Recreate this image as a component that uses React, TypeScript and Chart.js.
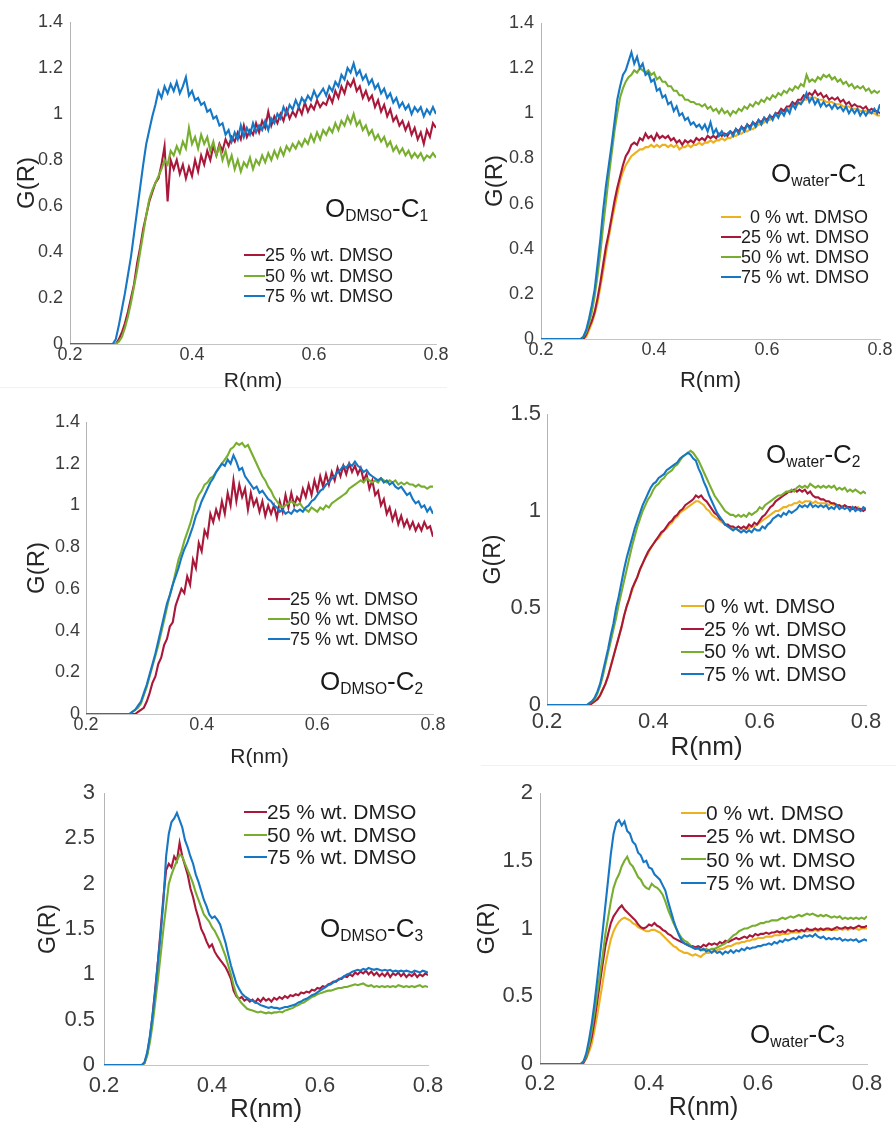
import React, { useEffect, useRef } from 'react';
import { Chart, registerables } from 'chart.js';

Chart.register(...registerables);

// ---------- shared x grid (nm) ----------
const R = [
  0.2,
  0.27, 0.275, 0.28, 0.285, 0.29, 0.295, 0.3, 0.305, 0.31, 0.315,
  0.32, 0.325, 0.33, 0.335, 0.34, 0.345, 0.35, 0.355, 0.36, 0.365,
  0.37, 0.375, 0.38, 0.385, 0.39, 0.395, 0.4, 0.405, 0.41, 0.415,
  0.42, 0.425, 0.43, 0.435, 0.44, 0.445, 0.45, 0.455, 0.46, 0.465,
  0.47, 0.475, 0.48, 0.485, 0.49, 0.495, 0.5, 0.505, 0.51, 0.515,
  0.52, 0.525, 0.53, 0.535, 0.54, 0.545, 0.55, 0.555, 0.56, 0.565,
  0.57, 0.575, 0.58, 0.585, 0.59, 0.595, 0.6, 0.605, 0.61, 0.615,
  0.62, 0.625, 0.63, 0.635, 0.64, 0.645, 0.65, 0.655, 0.66, 0.665,
  0.67, 0.675, 0.68, 0.685, 0.69, 0.695, 0.7, 0.705, 0.71, 0.715,
  0.72, 0.725, 0.73, 0.735, 0.74, 0.745, 0.75, 0.755, 0.76, 0.765,
  0.77, 0.775, 0.78, 0.785, 0.79, 0.795, 0.8,
];

const X_TICKS = [0.2, 0.4, 0.6, 0.8];
const Y_TICKS_14 = [0, 0.2, 0.4, 0.6, 0.8, 1, 1.2, 1.4];
const Y_TICKS_15 = [0, 0.5, 1, 1.5];
const Y_TICKS_3 = [0, 0.5, 1, 1.5, 2, 2.5, 3];
const Y_TICKS_2 = [0, 0.5, 1, 1.5, 2];

const LEGEND_3 = ['25 % wt. DMSO', '50 % wt. DMSO', '75 % wt. DMSO'];
const LEGEND_4 = ['0 % wt. DMSO', '25 % wt. DMSO', '50 % wt. DMSO', '75 % wt. DMSO'];

// ---------- Panel 1: O_DMSO - C1 ----------
const P1_25 = [0,
  0, 0, 0.02, 0.05, 0.09, 0.14, 0.20, 0.26, 0.35, 0.42,
  0.50, 0.56, 0.62, 0.66, 0.70, 0.72, 0.78, 0.86, 0.62, 0.80,
  0.76, 0.80, 0.74, 0.78, 0.72, 0.77, 0.73, 0.80, 0.75, 0.82,
  0.78, 0.84, 0.80, 0.86, 0.82, 0.87, 0.84, 0.89, 0.86, 0.90,
  0.88, 0.92, 0.89, 0.95, 0.90, 0.93, 0.91, 0.96, 0.92, 0.97,
  0.94, 1.01, 0.95, 0.99, 0.96, 1.00, 0.97, 1.02, 0.98, 1.01,
  0.99, 1.03, 1.00, 1.05, 1.01, 1.04, 1.02, 1.06, 1.03, 1.05,
  1.04, 1.08, 1.05, 1.10, 1.07, 1.12, 1.09, 1.14, 1.12, 1.15,
  1.10, 1.12, 1.07, 1.10, 1.06, 1.08, 1.03, 1.06, 1.01, 1.04,
  0.99, 1.02, 0.97, 0.99, 0.95, 0.97, 0.93, 0.96, 0.91, 0.94,
  0.89, 0.92, 0.87, 0.93, 0.90, 0.96, 0.94,
];
const P1_50 = [0,
  0, 0, 0.01, 0.03, 0.07, 0.12, 0.18, 0.25, 0.32, 0.40,
  0.48, 0.56, 0.63, 0.67, 0.70, 0.73, 0.76, 0.80, 0.78, 0.84,
  0.82, 0.86, 0.83, 0.88, 0.85, 0.94, 0.87, 0.90, 0.85, 0.91,
  0.87, 0.90, 0.84, 0.88, 0.82, 0.86, 0.80, 0.84, 0.78, 0.82,
  0.76, 0.80, 0.75, 0.79, 0.77, 0.81, 0.76, 0.80, 0.78, 0.82,
  0.79, 0.83, 0.80, 0.84, 0.81, 0.85, 0.82, 0.86, 0.84, 0.87,
  0.85, 0.88, 0.86, 0.89, 0.87, 0.91, 0.88, 0.92, 0.89, 0.93,
  0.91, 0.94, 0.92, 0.96, 0.93, 0.97, 0.95, 0.99, 0.96, 1.00,
  0.95, 0.97, 0.93, 0.95, 0.91, 0.93, 0.89, 0.91, 0.88, 0.90,
  0.86, 0.88, 0.84, 0.86, 0.83, 0.85, 0.82, 0.84, 0.81, 0.83,
  0.81, 0.83, 0.80, 0.82, 0.81, 0.83, 0.81,
];
const P1_75 = [0,
  0, 0.02, 0.08, 0.15, 0.22, 0.30, 0.38, 0.48, 0.58, 0.68,
  0.78, 0.87, 0.93, 0.99, 1.04, 1.10, 1.07, 1.12, 1.09, 1.13,
  1.10, 1.14, 1.09, 1.12, 1.16, 1.08, 1.10, 1.06, 1.07, 1.04,
  1.05, 1.01, 1.02, 0.98, 0.99, 0.95, 0.96, 0.91, 0.93, 0.88,
  0.92, 0.89, 0.95, 0.90, 0.94, 0.91, 0.96, 0.92, 0.95, 0.93,
  0.97, 0.93, 0.98, 0.96, 1.00, 0.98, 1.03, 1.00, 1.04, 1.02,
  1.06, 1.03, 1.07, 1.05, 1.08, 1.06, 1.10, 1.07, 1.09, 1.11,
  1.08, 1.12, 1.10, 1.14, 1.12, 1.17, 1.15, 1.20, 1.18, 1.22,
  1.17, 1.19, 1.15, 1.17, 1.13, 1.15, 1.11, 1.13, 1.09, 1.11,
  1.07, 1.09, 1.05, 1.07, 1.03, 1.05, 1.02, 1.04, 1.00, 1.03,
  1.01, 1.03, 0.99, 1.02, 1.00, 1.03, 1.00,
];

// ---------- Panel 2: O_water - C1 ----------
const P2_0 = [0,
  0, 0, 0.01, 0.04, 0.07, 0.11, 0.16, 0.23, 0.30, 0.38,
  0.45, 0.52, 0.58, 0.64, 0.70, 0.74, 0.77, 0.79, 0.81, 0.82,
  0.83, 0.84, 0.84, 0.85, 0.85, 0.86, 0.85, 0.86, 0.85, 0.86,
  0.86, 0.85, 0.86, 0.85, 0.86, 0.84, 0.85, 0.85, 0.86, 0.85,
  0.86, 0.86, 0.87, 0.86, 0.87, 0.87, 0.88, 0.87, 0.88, 0.88,
  0.89, 0.88, 0.89, 0.89, 0.90, 0.90, 0.91, 0.91, 0.92, 0.92,
  0.93, 0.93, 0.94, 0.95, 0.95, 0.96, 0.97, 0.97, 0.98, 0.99,
  0.99, 1.00, 1.01, 1.01, 1.02, 1.03, 1.04, 1.04, 1.05, 1.06,
  1.06, 1.07, 1.07, 1.07, 1.06, 1.06, 1.06, 1.05, 1.05, 1.05,
  1.04, 1.04, 1.04, 1.03, 1.03, 1.03, 1.02, 1.02, 1.02, 1.01,
  1.01, 1.01, 1.00, 1.00, 1.00, 0.99, 0.99,
];
const P2_25 = [0,
  0, 0, 0.02, 0.05, 0.08, 0.12, 0.18, 0.25, 0.33, 0.41,
  0.47, 0.54, 0.61, 0.67, 0.72, 0.77, 0.81, 0.83, 0.86, 0.87,
  0.86, 0.89, 0.88, 0.91, 0.89, 0.90, 0.88, 0.91, 0.89, 0.90,
  0.89, 0.90, 0.88, 0.89, 0.87, 0.88, 0.86, 0.88, 0.87, 0.88,
  0.87, 0.89, 0.88, 0.89, 0.88, 0.90, 0.89, 0.90, 0.89, 0.91,
  0.90, 0.91, 0.90, 0.92, 0.91, 0.93, 0.92, 0.94, 0.93, 0.95,
  0.94, 0.96, 0.95, 0.97, 0.96, 0.98, 0.97, 0.99, 0.98, 1.00,
  1.00, 1.02, 1.01, 1.03, 1.03, 1.05, 1.04, 1.06, 1.06, 1.08,
  1.07, 1.09, 1.08, 1.10, 1.08, 1.09, 1.07, 1.08, 1.06, 1.07,
  1.06, 1.07, 1.05, 1.06, 1.04, 1.05, 1.03, 1.04, 1.03, 1.03,
  1.02, 1.03, 1.01, 1.02, 1.01, 1.01, 1.00,
];
const P2_50 = [0,
  0, 0.01, 0.03, 0.07, 0.12, 0.19, 0.28, 0.38, 0.50, 0.61,
  0.72, 0.82, 0.92, 1.00, 1.07, 1.11, 1.14, 1.16, 1.17, 1.19,
  1.18, 1.20, 1.19, 1.18, 1.19, 1.17, 1.18, 1.15, 1.16, 1.14,
  1.14, 1.12, 1.12, 1.10, 1.10, 1.08, 1.08, 1.06, 1.06, 1.05,
  1.05, 1.04, 1.04, 1.03, 1.04, 1.02, 1.03, 1.01, 1.02, 1.00,
  1.02, 1.00, 1.01, 0.99, 1.01, 1.00, 1.02, 1.01, 1.03, 1.02,
  1.04, 1.03, 1.05, 1.04, 1.06, 1.05, 1.07, 1.06, 1.08, 1.07,
  1.09, 1.08, 1.10, 1.09, 1.11, 1.10, 1.12, 1.11, 1.13, 1.12,
  1.17, 1.14, 1.15, 1.14, 1.16, 1.15, 1.17, 1.16, 1.17, 1.15,
  1.16, 1.14, 1.15, 1.13, 1.14, 1.12, 1.13, 1.11, 1.12, 1.11,
  1.12, 1.10, 1.11, 1.09, 1.10, 1.09, 1.10,
];
const P2_75 = [0,
  0, 0.01, 0.04, 0.09, 0.15, 0.22, 0.33, 0.44, 0.57, 0.68,
  0.77, 0.86, 0.96, 1.06, 1.12, 1.17, 1.19, 1.23, 1.27, 1.22,
  1.25, 1.20, 1.22, 1.17, 1.18, 1.14, 1.15, 1.10, 1.11, 1.07,
  1.08, 1.04, 1.05, 1.01, 1.03, 0.99, 1.00, 0.97, 0.98, 0.95,
  0.96, 0.94, 0.95, 0.93, 0.95, 0.92, 0.96, 0.91, 0.93, 0.90,
  0.92, 0.90, 0.91, 0.92, 0.90, 0.93, 0.91, 0.94, 0.92, 0.95,
  0.93, 0.96, 0.94, 0.97, 0.95, 0.98, 0.96, 0.99, 0.97, 1.00,
  0.98, 1.01, 0.99, 1.02, 1.00, 1.04, 1.02, 1.05, 1.04, 1.06,
  1.09, 1.05, 1.07, 1.04, 1.06, 1.03, 1.05, 1.03, 1.04, 1.02,
  1.04, 1.02, 1.03, 1.01, 1.03, 1.00, 1.02, 1.00, 1.02, 0.99,
  1.01, 0.99, 1.01, 1.00, 1.02, 1.00, 1.04,
];

// ---------- Panel 3: O_DMSO - C2 ----------
const P3_25 = [0,
  0, 0, 0, 0, 0.01, 0.02, 0.03, 0.06, 0.10, 0.15,
  0.18, 0.24, 0.27, 0.33, 0.36, 0.42, 0.44, 0.52, 0.56, 0.60,
  0.58, 0.66, 0.62, 0.74, 0.70, 0.82, 0.78, 0.88, 0.85, 0.96,
  0.92, 0.98, 0.94, 1.02, 0.96, 1.06, 1.00, 1.12, 1.02, 1.10,
  1.04, 1.08, 0.98, 1.06, 1.00, 1.03, 0.97, 1.02, 0.95, 1.00,
  0.96, 1.00, 0.94, 1.02, 0.97, 1.05, 0.99, 1.06, 1.00, 1.04,
  1.02, 1.08, 1.04, 1.10, 1.05, 1.12, 1.07, 1.14, 1.09, 1.15,
  1.10, 1.16, 1.12, 1.18, 1.14, 1.19, 1.15, 1.20, 1.16, 1.19,
  1.15, 1.18, 1.12, 1.15, 1.08, 1.12, 1.05, 1.07, 1.00, 1.03,
  0.96, 0.99, 0.93, 0.97, 0.91, 0.95, 0.90, 0.93, 0.89, 0.92,
  0.88, 0.91, 0.88, 0.92, 0.89, 0.90, 0.85,
];
const P3_50 = [0,
  0, 0, 0.01, 0.02, 0.03, 0.05, 0.09, 0.13, 0.18, 0.23,
  0.28, 0.33, 0.39, 0.45, 0.51, 0.57, 0.62, 0.68, 0.74, 0.78,
  0.83, 0.87, 0.91, 0.96, 1.02, 1.05, 1.07, 1.10, 1.11, 1.13,
  1.14, 1.16, 1.18, 1.20, 1.22, 1.24, 1.27, 1.28, 1.30, 1.29,
  1.30, 1.28, 1.29, 1.26, 1.23, 1.20, 1.17, 1.14, 1.12, 1.09,
  1.07, 1.04, 1.02, 1.00, 0.99, 1.00, 1.01, 1.02, 1.01, 1.00,
  1.01, 0.99, 0.98, 0.97, 0.99, 0.98, 0.97, 0.99, 0.98, 1.00,
  0.99, 1.01, 1.02, 1.03, 1.04, 1.05, 1.06, 1.08, 1.09, 1.10,
  1.11, 1.12, 1.11, 1.13, 1.12, 1.11, 1.12, 1.11, 1.13, 1.12,
  1.11, 1.12, 1.11, 1.12, 1.10, 1.11, 1.10, 1.11, 1.10, 1.10,
  1.09, 1.10, 1.09, 1.09, 1.08, 1.09, 1.09,
];
const P3_75 = [0,
  0, 0, 0.01, 0.02, 0.04, 0.06, 0.10, 0.14, 0.19, 0.24,
  0.29, 0.35, 0.41, 0.47, 0.53, 0.57, 0.62, 0.66, 0.70, 0.75,
  0.79, 0.82, 0.86, 0.90, 0.95, 0.98, 1.02, 1.05, 1.08, 1.11,
  1.13, 1.16, 1.18, 1.20, 1.19, 1.22, 1.20, 1.24, 1.21, 1.17,
  1.18, 1.14, 1.12, 1.10, 1.08, 1.09, 1.06, 1.07, 1.05, 1.03,
  1.02, 1.00, 0.99, 0.97, 0.98, 0.96, 0.97, 0.96, 0.98, 0.97,
  0.98, 0.97, 0.99, 1.00, 1.02, 1.03, 1.05, 1.07, 1.08, 1.10,
  1.11, 1.13, 1.14, 1.16, 1.17, 1.19, 1.18, 1.20, 1.19, 1.21,
  1.19, 1.18, 1.16, 1.17, 1.15, 1.14, 1.13, 1.12, 1.13, 1.11,
  1.12, 1.10, 1.11, 1.09, 1.08, 1.09, 1.07, 1.05, 1.06, 1.03,
  1.01, 1.02, 0.99, 1.00, 0.97, 0.99, 0.96,
];

// ---------- Panel 4: O_water - C2 ----------
const P4_0 = [0,
  0, 0, 0, 0.01, 0.02, 0.03, 0.05, 0.08, 0.11, 0.15,
  0.20, 0.25, 0.30, 0.35, 0.40, 0.46, 0.51, 0.55, 0.59, 0.63,
  0.66, 0.70, 0.73, 0.76, 0.78, 0.81, 0.83, 0.85, 0.86, 0.88,
  0.90, 0.91, 0.93, 0.94, 0.96, 0.97, 0.99, 1.00, 1.01, 1.02,
  1.03, 1.04, 1.05, 1.05, 1.04, 1.03, 1.01, 1.00, 0.98, 0.97,
  0.96, 0.95, 0.94, 0.93, 0.92, 0.92, 0.91, 0.91, 0.90, 0.91,
  0.90, 0.91, 0.91, 0.92, 0.92, 0.93, 0.94, 0.95, 0.96, 0.97,
  0.98, 0.99, 1.00, 1.00, 1.01, 1.02, 1.02, 1.03, 1.03, 1.04,
  1.04, 1.05, 1.04, 1.05, 1.05, 1.05, 1.04, 1.05, 1.04, 1.04,
  1.04, 1.04, 1.03, 1.04, 1.03, 1.03, 1.03, 1.02, 1.03, 1.02,
  1.02, 1.02, 1.01, 1.02, 1.01, 1.01, 1.01,
];
const P4_25 = [0,
  0, 0, 0, 0.01, 0.02, 0.03, 0.05, 0.08, 0.11, 0.15,
  0.20, 0.25, 0.30, 0.35, 0.40, 0.46, 0.51, 0.55, 0.60, 0.63,
  0.66, 0.70, 0.73, 0.76, 0.79, 0.81, 0.83, 0.85, 0.87, 0.89,
  0.90, 0.92, 0.94, 0.95, 0.97, 0.98, 1.00, 1.01, 1.03, 1.04,
  1.05, 1.06, 1.08, 1.07, 1.08, 1.06, 1.05, 1.03, 1.01, 0.99,
  0.98, 0.96, 0.95, 0.93, 0.93, 0.92, 0.92, 0.91, 0.92, 0.91,
  0.92, 0.91, 0.93, 0.92, 0.94, 0.93, 0.95, 0.97, 0.98, 1.00,
  1.02, 1.03, 1.05, 1.06, 1.07, 1.08, 1.09, 1.10, 1.10, 1.11,
  1.10, 1.11, 1.10, 1.11, 1.09, 1.10, 1.08, 1.07, 1.07, 1.06,
  1.06, 1.05, 1.05, 1.04, 1.04, 1.03, 1.03, 1.02, 1.03, 1.02,
  1.02, 1.01, 1.02, 1.01, 1.01, 1.00, 1.01,
];
const P4_50 = [0,
  0, 0, 0.01, 0.02, 0.03, 0.06, 0.10, 0.15, 0.21, 0.27,
  0.33, 0.39, 0.45, 0.52, 0.58, 0.64, 0.70, 0.76, 0.82, 0.87,
  0.92, 0.96, 1.00, 1.03, 1.06, 1.08, 1.11, 1.13, 1.14, 1.16,
  1.17, 1.19, 1.20, 1.21, 1.23, 1.24, 1.26, 1.28, 1.29, 1.30,
  1.31, 1.30, 1.28, 1.26, 1.23, 1.20, 1.17, 1.14, 1.11, 1.08,
  1.06, 1.04, 1.02, 1.00, 0.99, 0.98, 0.98, 0.97, 0.98, 0.97,
  0.98, 0.97, 0.99, 0.98, 0.99, 1.00, 1.02, 1.01, 1.03, 1.04,
  1.05, 1.06, 1.07, 1.08, 1.08, 1.09, 1.10, 1.10, 1.11, 1.10,
  1.12, 1.13, 1.12, 1.13, 1.12, 1.14, 1.13, 1.12, 1.13, 1.12,
  1.13, 1.12, 1.13, 1.12, 1.13, 1.11, 1.12, 1.11, 1.12, 1.10,
  1.11, 1.10, 1.11, 1.10, 1.09, 1.10, 1.09,
];
const P4_75 = [0,
  0, 0, 0.01, 0.02, 0.04, 0.07, 0.11, 0.17, 0.23, 0.29,
  0.36, 0.42, 0.50, 0.56, 0.63, 0.70, 0.76, 0.81, 0.86, 0.91,
  0.95, 0.99, 1.03, 1.06, 1.09, 1.12, 1.14, 1.15, 1.17, 1.18,
  1.19, 1.21, 1.22, 1.23, 1.24, 1.25, 1.27, 1.28, 1.29, 1.30,
  1.29, 1.27, 1.26, 1.22, 1.19, 1.15, 1.12, 1.08, 1.05, 1.02,
  0.99, 0.97, 0.95, 0.93, 0.92, 0.91, 0.90, 0.91, 0.90, 0.89,
  0.90, 0.89, 0.90, 0.89, 0.91, 0.90, 0.90, 0.92, 0.91, 0.93,
  0.94, 0.96, 0.97, 0.98, 0.97, 0.99, 0.98, 1.00, 0.99, 1.00,
  1.01, 1.03, 1.02, 1.03, 1.02, 1.04, 1.02, 1.03, 1.02, 1.03,
  1.02, 1.03, 1.01, 1.02, 1.01, 1.03, 1.01, 1.02, 1.01, 1.02,
  1.00, 1.02, 1.00, 1.01, 1.00, 1.02, 1.01,
];

// ---------- Panel 5: O_DMSO - C3 ----------
const P5_25 = [0,
  0, 0.02, 0.12, 0.30, 0.55, 0.85, 1.15, 1.50, 1.85, 2.15,
  2.22, 2.18, 2.30, 2.25, 2.45, 2.30, 2.20, 2.10, 1.95, 1.85,
  1.72, 1.62, 1.50, 1.44, 1.36, 1.30, 1.33, 1.25, 1.20, 1.16,
  1.12, 1.08, 1.02, 0.95, 0.82, 0.76, 0.73, 0.75, 0.71, 0.73,
  0.70, 0.72, 0.69, 0.73, 0.70, 0.74, 0.71, 0.73, 0.70, 0.74,
  0.72, 0.75, 0.73, 0.76, 0.74, 0.77, 0.76, 0.78, 0.77, 0.80,
  0.79, 0.81, 0.80, 0.83, 0.82, 0.85, 0.84, 0.87, 0.86, 0.89,
  0.90, 0.92, 0.92, 0.95, 0.95, 0.98, 0.97, 1.00, 0.98, 1.02,
  1.00, 1.03, 1.01, 1.04, 1.00, 1.03, 0.99, 1.02, 0.98, 1.01,
  0.98, 1.02, 0.97, 1.01, 0.99, 1.02, 0.98, 1.01, 0.97, 1.00,
  0.98, 1.01, 0.97, 1.00, 0.98, 1.01, 0.99,
];
const P5_50 = [0,
  0, 0.02, 0.10, 0.25, 0.45, 0.70, 0.95, 1.22, 1.50, 1.75,
  2.00, 2.10, 2.18, 2.25, 2.32, 2.30, 2.22, 2.15, 2.08, 2.00,
  1.90, 1.82, 1.74, 1.66, 1.62, 1.58, 1.52, 1.48, 1.42, 1.36,
  1.28, 1.20, 1.10, 1.00, 0.88, 0.78, 0.72, 0.68, 0.65, 0.62,
  0.61, 0.60, 0.59, 0.58, 0.59, 0.58, 0.57, 0.58, 0.57, 0.58,
  0.58, 0.59, 0.58, 0.60, 0.61, 0.62, 0.63, 0.65, 0.66, 0.68,
  0.69, 0.71, 0.73, 0.75, 0.76, 0.78, 0.79, 0.80, 0.81, 0.82,
  0.82, 0.83, 0.84, 0.85, 0.85, 0.86, 0.86, 0.87, 0.88, 0.89,
  0.88, 0.89, 0.90, 0.88, 0.87, 0.88, 0.86, 0.87, 0.86, 0.87,
  0.86, 0.87, 0.86, 0.87, 0.86, 0.88, 0.87, 0.86, 0.87, 0.86,
  0.87, 0.86, 0.87, 0.88, 0.86, 0.87, 0.86,
];
const P5_75 = [0,
  0, 0.03, 0.14, 0.32, 0.55, 0.82, 1.15, 1.45, 1.80, 2.30,
  2.55, 2.68, 2.72, 2.78, 2.70, 2.62, 2.48, 2.40, 2.30, 2.22,
  2.10, 2.02, 1.92, 1.82, 1.75, 1.66, 1.62, 1.64, 1.60, 1.55,
  1.45, 1.35, 1.22, 1.10, 1.00, 0.90, 0.84, 0.79, 0.76, 0.74,
  0.72, 0.71, 0.69, 0.68, 0.66, 0.65, 0.64, 0.63, 0.64, 0.63,
  0.63, 0.62, 0.63, 0.64, 0.64, 0.65, 0.66, 0.67, 0.69, 0.70,
  0.72, 0.73, 0.75, 0.77, 0.78, 0.80, 0.82, 0.84, 0.86, 0.88,
  0.89, 0.91, 0.93, 0.94, 0.96, 0.98, 1.00, 1.01, 1.03, 1.04,
  1.05, 1.04, 1.06, 1.05, 1.07, 1.06, 1.05, 1.06, 1.05, 1.04,
  1.05, 1.04, 1.05, 1.03, 1.04, 1.03, 1.04, 1.03, 1.04, 1.03,
  1.02, 1.04, 1.03, 1.02, 1.04, 1.03, 1.02,
];

// ---------- Panel 6: O_water - C3 ----------
const P6_0 = [0,
  0, 0, 0.01, 0.04, 0.09, 0.15, 0.25, 0.36, 0.48, 0.60,
  0.73, 0.83, 0.92, 0.98, 1.02, 1.05, 1.07, 1.08, 1.07, 1.06,
  1.04, 1.03, 1.01, 1.00, 0.99, 0.98, 0.98, 0.99, 0.99, 0.98,
  0.97, 0.95, 0.93, 0.91, 0.89, 0.87, 0.86, 0.84, 0.83, 0.82,
  0.82, 0.81, 0.80, 0.81, 0.80, 0.79, 0.81, 0.82, 0.82, 0.83,
  0.83, 0.84, 0.85, 0.85, 0.86, 0.87, 0.87, 0.88, 0.89, 0.89,
  0.90, 0.90, 0.91, 0.91, 0.92, 0.92, 0.93, 0.93, 0.93, 0.94,
  0.94, 0.94, 0.95, 0.95, 0.95, 0.96, 0.96, 0.96, 0.97, 0.97,
  0.97, 0.97, 0.98, 0.98, 0.98, 0.98, 0.98, 0.99, 0.98, 0.99,
  0.99, 0.99, 0.99, 0.99, 0.99, 0.99, 1.00, 0.99, 1.00, 0.99,
  1.00, 1.00, 1.00, 0.99, 1.00, 1.00, 1.00,
];
const P6_25 = [0,
  0, 0, 0.01, 0.05, 0.12, 0.20, 0.32, 0.46, 0.60, 0.74,
  0.87, 0.96, 1.04, 1.09, 1.12, 1.15, 1.17, 1.14, 1.12, 1.10,
  1.08, 1.06, 1.03, 1.01, 1.00, 1.01, 1.03, 1.02, 1.04, 1.02,
  1.01, 0.99, 0.98, 0.96, 0.95, 0.93, 0.92, 0.91, 0.90, 0.89,
  0.88, 0.87, 0.87, 0.86, 0.87, 0.86, 0.88, 0.87, 0.89, 0.88,
  0.89, 0.88, 0.90, 0.89, 0.91, 0.90, 0.91, 0.92, 0.93, 0.92,
  0.93, 0.94, 0.93, 0.95, 0.94, 0.96, 0.95, 0.96, 0.96, 0.97,
  0.96, 0.97, 0.97, 0.98, 0.97, 0.98, 0.97, 0.99, 0.98, 0.98,
  0.99, 0.98, 0.99, 0.98, 1.00, 0.99, 0.99, 1.00, 0.99, 1.00,
  0.99, 1.00, 1.00, 0.99, 1.00, 1.01, 1.00, 1.00, 1.01, 1.00,
  1.01, 1.00, 1.01, 1.02, 1.01, 1.01, 1.02,
];
const P6_50 = [0,
  0, 0, 0.02, 0.06, 0.14, 0.25, 0.38, 0.52, 0.66, 0.80,
  0.96, 1.08, 1.20, 1.30, 1.36, 1.40, 1.46, 1.50, 1.53, 1.48,
  1.46, 1.42, 1.38, 1.36, 1.32, 1.30, 1.29, 1.33, 1.31, 1.30,
  1.28, 1.25, 1.20, 1.14, 1.09, 1.04, 1.00, 0.96, 0.93, 0.91,
  0.90, 0.88, 0.86, 0.85, 0.85, 0.84, 0.84, 0.85, 0.84, 0.85,
  0.85, 0.86, 0.87, 0.88, 0.89, 0.91, 0.93, 0.95, 0.96, 0.98,
  0.99, 1.00, 1.00, 1.01, 1.02, 1.02, 1.03, 1.04, 1.04, 1.05,
  1.05, 1.06, 1.06, 1.06, 1.07, 1.08, 1.07, 1.08, 1.09, 1.08,
  1.09, 1.10, 1.09, 1.10, 1.11, 1.10, 1.11, 1.10, 1.09, 1.10,
  1.09, 1.10, 1.09, 1.08, 1.09, 1.08, 1.09, 1.07, 1.08, 1.07,
  1.08, 1.07, 1.08, 1.07, 1.08, 1.07, 1.09,
];
const P6_75 = [0,
  0, 0, 0.02, 0.08, 0.18, 0.30, 0.45, 0.62, 0.80, 0.98,
  1.17, 1.36, 1.55, 1.70, 1.78, 1.80, 1.76, 1.79, 1.72, 1.70,
  1.64, 1.62, 1.56, 1.54, 1.49, 1.50, 1.45, 1.44, 1.40, 1.38,
  1.36, 1.32, 1.28, 1.20, 1.13, 1.06, 1.00, 0.95, 0.91, 0.89,
  0.88, 0.87, 0.86, 0.85, 0.86, 0.84, 0.85, 0.83, 0.84, 0.82,
  0.84, 0.82, 0.83, 0.81, 0.83, 0.82, 0.84, 0.82, 0.84, 0.83,
  0.85, 0.84, 0.86, 0.85, 0.86, 0.86, 0.87, 0.87, 0.88, 0.88,
  0.89, 0.88, 0.90, 0.89, 0.91, 0.90, 0.92, 0.91, 0.92, 0.93,
  0.92, 0.94, 0.93, 0.95, 0.94, 0.95, 0.94, 0.96, 0.94, 0.93,
  0.94, 0.92, 0.93, 0.92, 0.93, 0.92, 0.93, 0.91, 0.92, 0.91,
  0.92, 0.91, 0.92, 0.90, 0.91, 0.92, 0.91,
];

// ---------- styles ----------
const C_0 = '#EDB120';
const C_25 = '#A8183A';
const C_50 = '#78AE30';
const C_75 = '#1677C4';
const FONT = "'Liberation Sans', Arial, Helvetica, sans-serif";

type Series = { label: string; color: string; values: number[] };

type PanelCfg = {
  left: number; top: number; width: number; height: number;
  x0: number; x1: number; yTop: number; yBot: number;
  yMax: number; yTicks: number[];
  tickSize: number; yTitleSize: number; xTitleSize: number;
  yTickPad: number; yTitleCX: number; xTickCY: number; xTitleCY: number;
  series: Series[];
  legend: { left: number; top: number; rowH: number; lineW: number; fontSize: number; firstIndent?: number };
  tag: { left: number; baseline: number; sub: string; idx: string };
};

function makeSeries(labels: string[], colors: string[], vals: number[][]): Series[] {
  return labels.map((l, i) => ({ label: l, color: colors[i], values: vals[i] }));
}

const PANELS: PanelCfg[] = [
  {
    left: 0, top: 0, width: 460, height: 400,
    x0: 70, x1: 436, yTop: 22, yBot: 344,
    yMax: 1.4, yTicks: Y_TICKS_14,
    tickSize: 18, yTitleSize: 24, xTitleSize: 21,
    yTickPad: 7, yTitleCX: 27, xTickCY: 353, xTitleCY: 381,
    series: makeSeries(LEGEND_3, [C_25, C_50, C_75], [P1_25, P1_50, P1_75]),
    legend: { left: 244, top: 245, rowH: 20.5, lineW: 21, fontSize: 18 },
    tag: { left: 325, baseline: 217, sub: 'DMSO', idx: '1' },
  },
  {
    left: 448, top: 0, width: 448, height: 400,
    x0: 541, x1: 880, yTop: 23, yBot: 339,
    yMax: 1.4, yTicks: Y_TICKS_14,
    tickSize: 18, yTitleSize: 24, xTitleSize: 22,
    yTickPad: 7, yTitleCX: 495, xTickCY: 349, xTitleCY: 381,
    series: makeSeries(LEGEND_4, [C_0, C_25, C_50, C_75], [P2_0, P2_25, P2_50, P2_75]),
    legend: { left: 721, top: 207, rowH: 20, lineW: 20, fontSize: 18, firstIndent: 9 },
    tag: { left: 771, baseline: 182, sub: 'water', idx: '1' },
  },
  {
    left: 0, top: 380, width: 460, height: 390,
    x0: 86, x1: 433, yTop: 422, yBot: 714,
    yMax: 1.4, yTicks: Y_TICKS_14,
    tickSize: 18, yTitleSize: 24, xTitleSize: 21,
    yTickPad: 6, yTitleCX: 37, xTickCY: 725, xTitleCY: 757,
    series: makeSeries(LEGEND_3, [C_25, C_50, C_75], [P3_25, P3_50, P3_75]),
    legend: { left: 268, top: 589, rowH: 20, lineW: 22, fontSize: 18 },
    tag: { left: 320, baseline: 690, sub: 'DMSO', idx: '2' },
  },
  {
    left: 448, top: 380, width: 448, height: 390,
    x0: 547, x1: 866, yTop: 414, yBot: 705,
    yMax: 1.5, yTicks: Y_TICKS_15,
    tickSize: 22, yTitleSize: 23, xTitleSize: 26,
    yTickPad: 6, yTitleCX: 494, xTickCY: 722, xTitleCY: 748,
    series: makeSeries(LEGEND_4, [C_0, C_25, C_50, C_75], [P4_0, P4_25, P4_50, P4_75]),
    legend: { left: 681, top: 595, rowH: 22.7, lineW: 23, fontSize: 20 },
    tag: { left: 766, baseline: 463, sub: 'water', idx: '2' },
  },
  {
    left: 0, top: 760, width: 460, height: 366,
    x0: 104, x1: 428, yTop: 793, yBot: 1065,
    yMax: 3, yTicks: Y_TICKS_3,
    tickSize: 22, yTitleSize: 23, xTitleSize: 26,
    yTickPad: 9, yTitleCX: 49, xTickCY: 1086, xTitleCY: 1110,
    series: makeSeries(LEGEND_3, [C_25, C_50, C_75], [P5_25, P5_50, P5_75]),
    legend: { left: 244, top: 801, rowH: 22.5, lineW: 23, fontSize: 21 },
    tag: { left: 320, baseline: 937, sub: 'DMSO', idx: '3' },
  },
  {
    left: 448, top: 760, width: 448, height: 366,
    x0: 540, x1: 867, yTop: 793, yBot: 1064,
    yMax: 2, yTicks: Y_TICKS_2,
    tickSize: 22, yTitleSize: 24, xTitleSize: 25,
    yTickPad: 7, yTitleCX: 487, xTickCY: 1084, xTitleCY: 1108,
    series: makeSeries(LEGEND_4, [C_0, C_25, C_50, C_75], [P6_0, P6_25, P6_50, P6_75]),
    legend: { left: 681, top: 801, rowH: 23.3, lineW: 25, fontSize: 21 },
    tag: { left: 750, baseline: 1043, sub: 'water', idx: '3' },
  },
];

function PanelChart({ p }: { p: PanelCfg }) {
  const ref = useRef<HTMLCanvasElement | null>(null);

  useEffect(() => {
    if (!ref.current) return;
    const tickLH = p.tickSize * 1.2;
    const yTitleLH = p.yTitleSize * 1.2;
    const xTitleLH = p.xTitleSize * 1.2;
    const padLeft = p.yTitleCX - p.left - yTitleLH / 2;
    const yWidth = p.x0 - p.left - padLeft;
    const xHeight = p.xTitleCY - p.yBot + xTitleLH / 2;
    const padBottom = Math.max(0, p.top + p.height - p.yBot - xHeight);
    const padTop = p.yTop - p.top;
    const padRight = p.left + p.width - p.x1;
    const xTickPad = Math.max(0, p.xTickCY - p.yBot - tickLH / 2);
    const n = p.series.length;

    const chart = new Chart(ref.current, {
      type: 'line',
      data: {
        datasets: p.series.map((s, i) => ({
          label: s.label,
          data: R.map((x, j) => ({ x, y: s.values[j] })),
          borderColor: s.color,
          backgroundColor: s.color,
          borderWidth: 2.1,
          pointRadius: 0,
          tension: 0,
          fill: false,
          order: n - 1 - i,
        })),
      },
      options: {
        responsive: false,
        animation: false,
        devicePixelRatio: 1,
        events: [],
        layout: { padding: { left: padLeft, top: padTop, right: padRight, bottom: padBottom } },
        plugins: { legend: { display: false }, tooltip: { enabled: false } },
        scales: {
          x: {
            type: 'linear',
            min: 0.2,
            max: 0.8,
            grid: { display: false, drawTicks: false },
            border: { display: true, color: '#c4c4c4', width: 1 },
            afterBuildTicks: (scale: any) => { scale.ticks = X_TICKS.map((v) => ({ value: v })); },
            afterFit: (scale: any) => { scale.height = xHeight; },
            ticks: {
              autoSkip: false,
              maxRotation: 0,
              padding: xTickPad,
              color: '#3c3c3c',
              font: { family: FONT, size: p.tickSize },
              callback: (v: any) => String(v),
            },
            title: {
              display: true,
              text: 'R(nm)',
              color: '#262626',
              padding: 0,
              font: { family: FONT, size: p.xTitleSize },
            },
          },
          y: {
            type: 'linear',
            min: 0,
            max: p.yMax,
            grid: { display: false, drawTicks: false },
            border: { display: true, color: '#b4b4b4', width: 1 },
            afterBuildTicks: (scale: any) => { scale.ticks = p.yTicks.map((v) => ({ value: v })); },
            afterFit: (scale: any) => { scale.width = yWidth; },
            ticks: {
              autoSkip: false,
              padding: p.yTickPad,
              color: '#3c3c3c',
              font: { family: FONT, size: p.tickSize },
              callback: (v: any) => String(v),
            },
            title: {
              display: true,
              text: 'G(R)',
              color: '#262626',
              padding: 0,
              font: { family: FONT, size: p.yTitleSize },
            },
          },
        },
      } as any,
    });
    return () => chart.destroy();
  }, [p]);

  const lg = p.legend;
  return (
    <>
      <canvas
        ref={ref}
        width={p.width}
        height={p.height}
        style={{ position: 'absolute', left: p.left, top: p.top, width: p.width, height: p.height }}
      />
      <div
        style={{
          position: 'absolute',
          left: lg.left,
          top: lg.top,
          fontFamily: FONT,
          fontSize: lg.fontSize,
          color: '#1e1e1e',
          whiteSpace: 'pre',
        }}
      >
        {p.series.map((s, i) => (
          <div key={s.label} style={{ display: 'flex', alignItems: 'center', height: lg.rowH, lineHeight: lg.rowH + 'px' }}>
            <span style={{ display: 'inline-block', width: lg.lineW, height: 2, background: s.color }} />
            <span style={{ paddingLeft: i === 0 && lg.firstIndent ? lg.firstIndent : 0 }}>{s.label}</span>
          </div>
        ))}
      </div>
      <div
        style={{
          position: 'absolute',
          left: p.tag.left,
          top: p.tag.baseline - 22,
          fontFamily: FONT,
          fontSize: 26,
          lineHeight: '26px',
          color: '#1a1a1a',
          whiteSpace: 'nowrap',
        }}
      >
        O<span style={{ fontSize: 15.6, position: 'relative', top: 4 }}>{p.tag.sub}</span>-C
        <span style={{ fontSize: 15.6, position: 'relative', top: 4 }}>{p.tag.idx}</span>
      </div>
    </>
  );
}

export default function App() {
  return (
    <div style={{ position: 'absolute', left: 0, top: 0, width: 896, height: 1126, background: '#fff', overflow: 'hidden' }}>
      <div style={{ position: 'absolute', left: 0, top: 387, width: 447, height: 1, background: '#f1f1f1' }} />
      <div style={{ position: 'absolute', left: 481, top: 765, width: 415, height: 1, background: '#f1f1f1' }} />
      {PANELS.map((p, i) => (
        <PanelChart key={i} p={p} />
      ))}
    </div>
  );
}
